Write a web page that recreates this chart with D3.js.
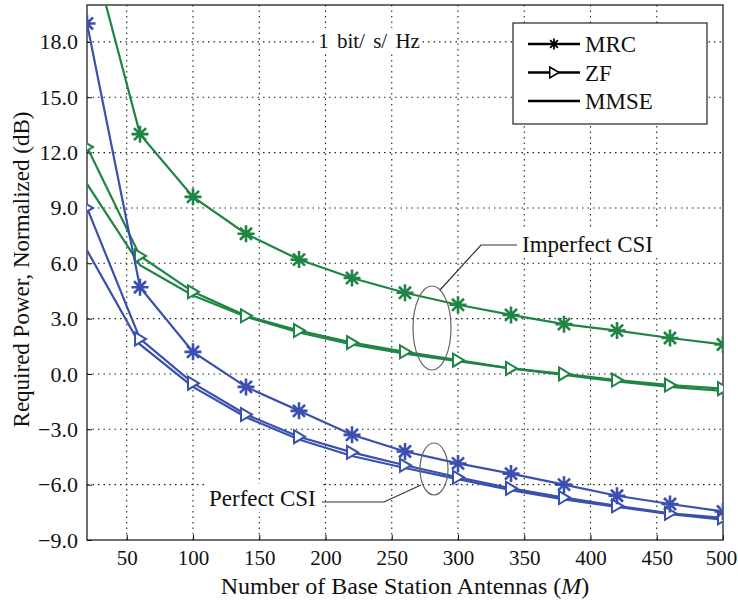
<!DOCTYPE html>
<html>
<head>
<meta charset="utf-8">
<script src="https://cdn.jsdelivr.net/npm/d3@7"></script>
<style>
  body { margin: 0; background: #fff; }
  svg text { font-family: "Liberation Serif", "DejaVu Serif", serif; fill: #111; }
</style>
</head>
<body>
<div id="chart"></div>
<script>
// antennas (M)
const antennas = [20, 60, 100, 140, 180, 220, 260, 300, 340, 380, 420, 460, 500];

// perfect CSI (blue)
const perfectMRC = [19.0, 4.7, 1.2, -0.7, -2.0, -3.3, -4.2, -4.85, -5.4, -6.0, -6.6, -7.05, -7.45];
const perfectZF = [9.0, 1.9, -0.5, -2.2, -3.4, -4.25, -4.95, -5.6, -6.2, -6.7, -7.15, -7.55, -7.8];
const perfectMMSE = [6.7, 1.6, -0.7, -2.35, -3.55, -4.45, -5.1, -5.7, -6.3, -6.8, -7.2, -7.6, -7.9];

// imperfect CSI (green)
const imperfectMRC = [23.9, 13.0, 9.6, 7.6, 6.2, 5.2, 4.4, 3.75, 3.2, 2.7, 2.35, 1.95, 1.6];
const imperfectZF = [12.3, 6.4, 4.45, 3.15, 2.35, 1.7, 1.2, 0.75, 0.3, 0.0, -0.33, -0.6, -0.8];
const imperfectMMSE = [10.3, 5.9, 4.25, 3.1, 2.25, 1.6, 1.1, 0.7, 0.3, -0.05, -0.4, -0.7, -0.92];

const xTicks = [50, 100, 150, 200, 250, 300, 350, 400, 450, 500];
const yTicks = [-9, -6, -3, 0, 3, 6, 9, 12, 15, 18];
const legendLabels = ['MRC', 'ZF', 'MMSE'];

const blue = '#3a4fae';
const green = '#1f8544';

const width = 738, height = 601;
const margin = { left: 87, right: 15, top: 5, bottom: 61 };

const svg = d3.select('#chart').append('svg')
    .attr('width', width)
    .attr('height', height);

const x = d3.scaleLinear().domain([20, 500]).range([margin.left, width - margin.right]);
const y = d3.scaleLinear().domain([-9, 20]).range([height - margin.bottom, margin.top]);

// grid
const grid = svg.append('g').attr('stroke', '#222').attr('stroke-width', 1.1).attr('stroke-dasharray', '1.5,4');
xTicks.filter(d => d < 500).forEach(d => {
    grid.append('line').attr('x1', x(d)).attr('x2', x(d)).attr('y1', y(-9)).attr('y2', y(20));
});
yTicks.filter(d => d > -9).forEach(d => {
    grid.append('line').attr('x1', x(20)).attr('x2', x(500)).attr('y1', y(d)).attr('y2', y(d));
});

// axes
svg.append('g')
    .attr('transform', `translate(0,${y(-9)})`)
    .call(d3.axisBottom(x).tickValues(xTicks).tickSize(-5).tickPadding(10).tickFormat(d3.format('d')))
    .call(g => g.select('.domain').remove())
    .call(g => g.selectAll('text').style('font-size', '21px').style('font-family', '"Liberation Serif", serif'))
    .call(g => g.selectAll('text').filter(d => d === 500).attr('dx', '-2'));

svg.append('g')
    .attr('transform', `translate(${x(20)},0)`)
    .call(d3.axisLeft(y).tickValues(yTicks).tickSize(-5).tickPadding(9).tickFormat(d3.format('.1f')))
    .call(g => g.select('.domain').remove())
    .call(g => g.selectAll('text').style('font-size', '22px').style('font-family', '"Liberation Serif", serif'));

svg.append('rect')
    .attr('x', x(20)).attr('y', y(20))
    .attr('width', x(500) - x(20)).attr('height', y(-9) - y(20))
    .attr('fill', 'none').attr('stroke', '#222').attr('stroke-width', 1.3);

// axis labels
svg.append('text')
    .attr('transform', `translate(29,${(y(-9) + y(20)) / 2 - 3}) rotate(-90)`)
    .attr('text-anchor', 'middle')
    .style('font-size', '23px')
    .text('Required Power, Normalized (dB)');

const xl = svg.append('text')
    .attr('x', (x(20) + x(500)) / 2)
    .attr('y', 594)
    .attr('text-anchor', 'middle')
    .style('font-size', '24px');
xl.append('tspan').text('Number of Base Station Antennas (');
xl.append('tspan').style('font-style', 'italic').text('M');
xl.append('tspan').text(')');

// clip
svg.append('clipPath').attr('id', 'plot-clip')
    .append('rect')
    .attr('x', x(20)).attr('y', y(20))
    .attr('width', x(500) - x(20)).attr('height', y(-9) - y(20));

const plot = svg.append('g').attr('clip-path', 'url(#plot-clip)');
const line = d3.line().x((d, i) => x(antennas[i])).y(d => y(d));

function starPath(r) {
    let p = '';
    for (let k = 0; k < 4; k++) {
        const a = k * Math.PI / 4;
        p += `M${-r * Math.cos(a)},${-r * Math.sin(a)}L${r * Math.cos(a)},${r * Math.sin(a)}`;
    }
    return p;
}
const triPath = 'M-5,-6.5L6,0L-5,6.5Z';

const series = [
    { values: imperfectMMSE, color: green, marker: null },
    { values: imperfectZF, color: green, marker: 'tri' },
    { values: imperfectMRC, color: green, marker: 'star' },
    { values: perfectMMSE, color: blue, marker: null },
    { values: perfectZF, color: blue, marker: 'tri' },
    { values: perfectMRC, color: blue, marker: 'star' }
];

series.forEach(s => {
    plot.append('path')
        .attr('d', line(s.values))
        .attr('fill', 'none')
        .attr('stroke', s.color)
        .attr('stroke-width', 2.2);
    if (s.marker) {
        plot.selectAll(null)
            .data(s.values)
            .join('path')
            .attr('transform', (d, i) => `translate(${x(antennas[i])},${y(d)})`)
            .attr('d', s.marker === 'star' ? starPath(8.5) : triPath)
            .attr('fill', s.marker === 'star' ? 'none' : '#fff')
            .attr('stroke', s.color)
            .attr('stroke-width', s.marker === 'star' ? 2.6 : 2);
    }
});

// annotation "1 bit/ s/ Hz"
svg.append('rect').attr('x', 316).attr('y', 28).attr('width', 106).attr('height', 25).attr('fill', '#fff');
svg.append('text').attr('x', 369).attr('y', 48).attr('text-anchor', 'middle')
    .style('font-size', '21px').style('word-spacing', '3px').text('1 bit/ s/ Hz');

// imperfect CSI callout
svg.append('ellipse').attr('cx', 432).attr('cy', 328).attr('rx', 19).attr('ry', 42)
    .attr('fill', 'none').attr('stroke', '#666').attr('stroke-width', 1.2);
svg.append('polyline').attr('points', '517,245 481,245 440,290')
    .attr('fill', 'none').attr('stroke', '#333').attr('stroke-width', 1.2);
svg.append('rect').attr('x', 519).attr('y', 228).attr('width', 140).attr('height', 28).attr('fill', '#fff');
svg.append('text').attr('x', 522).attr('y', 252).style('font-size', '23px').text('Imperfect CSI');

// perfect CSI callout
svg.append('ellipse').attr('cx', 434).attr('cy', 469).attr('rx', 14).attr('ry', 26)
    .attr('fill', 'none').attr('stroke', '#666').attr('stroke-width', 1.2);
svg.append('polyline').attr('points', '322,502 384,502 421,485')
    .attr('fill', 'none').attr('stroke', '#333').attr('stroke-width', 1.2);
svg.append('rect').attr('x', 207).attr('y', 484).attr('width', 114).attr('height', 28).attr('fill', '#fff');
svg.append('text').attr('x', 209).attr('y', 506).style('font-size', '23px').text('Perfect CSI');

// legend
const legend = svg.append('g');
legend.append('rect').attr('x', 513).attr('y', 23).attr('width', 194).attr('height', 101)
    .attr('fill', '#fff').attr('stroke', '#222').attr('stroke-width', 1.2);
legendLabels.forEach((lab, i) => {
    const ly = 44 + i * 28.5;
    legend.append('line').attr('x1', 528).attr('x2', 580).attr('y1', ly).attr('y2', ly)
        .attr('stroke', '#000').attr('stroke-width', 2.5);
    if (i === 0) {
        legend.append('path').attr('transform', `translate(554,${ly})`).attr('d', starPath(5.5))
            .attr('fill', 'none').attr('stroke', '#000').attr('stroke-width', 1.8);
    } else if (i === 1) {
        legend.append('path').attr('transform', `translate(554,${ly}) scale(0.85)`).attr('d', triPath)
            .attr('fill', '#fff').attr('stroke', '#000').attr('stroke-width', 1.8);
    }
    legend.append('text').attr('x', 585).attr('y', ly + 8).style('font-size', '23px').text(lab);
});
</script>
</body>
</html>
